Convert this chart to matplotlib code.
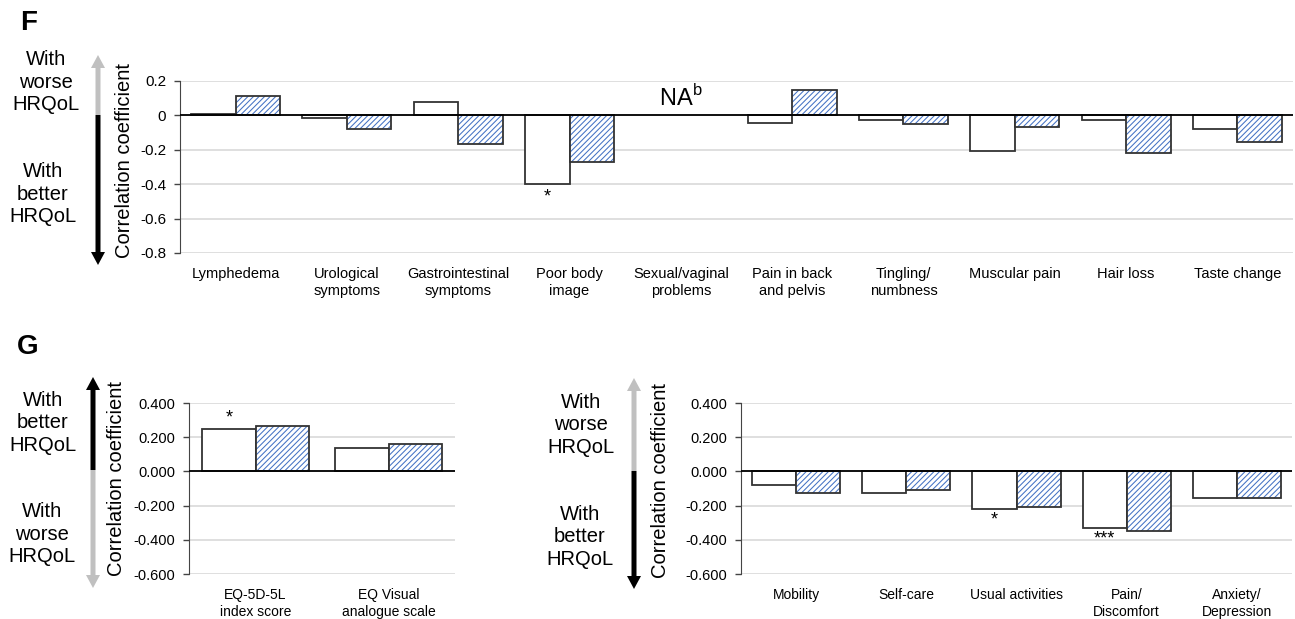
import matplotlib
matplotlib.use('Agg')
import matplotlib.pyplot as plt
import numpy as np

plt.rcParams['font.family'] = ['Liberation Sans', 'DejaVu Sans']
plt.rcParams['hatch.linewidth'] = 0.75

# ---- data ----
cats_f = ['Lymphedema', 'Urological\nsymptoms', 'Gastrointestinal\nsymptoms', 'Poor body\nimage',
          'Sexual/vaginal\nproblems', 'Pain in back\nand pelvis', 'Tingling/\nnumbness',
          'Muscular pain', 'Hair loss', 'Taste change']
open_f = [0.008, -0.017, 0.077, -0.398, np.nan, -0.045, -0.029, -0.207, -0.025, -0.077]
hatch_f = [0.11, -0.077, -0.164, -0.272, np.nan, 0.145, -0.052, -0.07, -0.218, -0.157]
sig_f = ['', '', '', '*', '', '', '', '', '', '']

cats_g1 = ['EQ-5D-5L\nindex score', 'EQ Visual\nanalogue scale']
open_g1 = [0.25, 0.139]
hatch_g1 = [0.266, 0.162]
sig_g1 = ['*', '']

cats_g2 = ['Mobility', 'Self-care', 'Usual activities', 'Pain/\nDiscomfort', 'Anxiety/\nDepression']
open_g2 = [-0.08, -0.124, -0.22, -0.333, -0.157]
hatch_g2 = [-0.124, -0.106, -0.21, -0.35, -0.157]
sig_g2 = ['', '', '*', '***', '']

W, H = 1295, 619
BLUE = '#4472C4'
EDGE = '#333333'
GRID = '#d9d9d9'
GREY = '#c0c0c0'

fig = plt.figure(figsize=(W / 100, H / 100), dpi=100)


def px_axes(x0, x1, ytop, ybot):
    return fig.add_axes([x0 / W, 1 - ybot / H, (x1 - x0) / W, (ybot - ytop) / H])


def bar_panel(ax, cats, vals_open, vals_hatch, sig, ylim, ticks, fmt, fs_tick, fs_cat, sig_off):
    x = np.arange(len(cats))
    w = 0.4
    ax.bar(x - w / 2, vals_open, w, color='white', edgecolor=EDGE, linewidth=1.3, zorder=3)
    ax.bar(x + w / 2, vals_hatch, w, color='white', edgecolor=BLUE, linewidth=0, hatch='//////', zorder=3)
    ax.bar(x + w / 2, vals_hatch, w, fill=False, edgecolor=EDGE, linewidth=1.3, zorder=4)
    ax.axhline(0, color='black', linewidth=1.3, zorder=5)
    ax.set_xlim(-0.5, len(cats) - 0.5)
    ax.set_ylim(*ylim)
    ax.set_yticks(ticks)
    ax.set_yticklabels([fmt.format(t) for t in ticks], fontsize=fs_tick)
    ax.yaxis.grid(True, color=GRID, linewidth=1.2, zorder=0)
    ax.set_axisbelow(True)
    ax.set_xticks(x)
    ax.set_xticklabels(cats, fontsize=fs_cat, linespacing=1.25)
    ax.tick_params(axis='x', length=0, pad=10)
    ax.tick_params(axis='y', length=4, width=1, pad=6, color='#444444')
    for s in ['top', 'right', 'bottom']:
        ax.spines[s].set_visible(False)
    ax.spines['left'].set_color('#444444')
    for i, s in enumerate(sig):
        if not s:
            continue
        v = vals_open[i]
        if v >= 0:
            ax.text(x[i] - w / 2, v + sig_off, s, ha='center', va='bottom', fontsize=13)
        else:
            ax.text(x[i] - w / 2, v - sig_off, s, ha='center', va='top', fontsize=13)


# panel F
axf = px_axes(180, 1293, 81, 253)
bar_panel(axf, cats_f, open_f, hatch_f, sig_f, (-0.8, 0.2), [0.2, 0, -0.2, -0.4, -0.6, -0.8],
          '{:g}', 11, 10.5, 0.025)
axf.text(4, 0.1, 'NA$^\\mathregular{b}$', ha='center', va='center', fontsize=17)

# panel G left
axg1 = px_axes(189, 455, 403, 574)
bar_panel(axg1, cats_g1, open_g1, hatch_g1, sig_g1, (-0.6, 0.4), [0.4, 0.2, 0, -0.2, -0.4, -0.6],
          '{:.3f}', 10.5, 10, 0.01)

# panel G right
axg2 = px_axes(741, 1292, 403, 574)
bar_panel(axg2, cats_g2, open_g2, hatch_g2, sig_g2, (-0.6, 0.4), [0.4, 0.2, 0, -0.2, -0.4, -0.6],
          '{:.3f}', 10.5, 10, 0.015)

# overlay for arrows and side annotations (pixel coords)
ov = fig.add_axes([0, 0, 1, 1], zorder=-1)
ov.set_xlim(0, W)
ov.set_ylim(H, 0)
ov.axis('off')


def arrow(x, y0, y1, color):
    ov.arrow(x, y0, 0, y1 - y0, width=5, head_width=14, head_length=13,
             length_includes_head=True, color=color, linewidth=0)


arrow(98, 115, 55, GREY)
arrow(98, 115, 265, 'black')
arrow(93, 470, 377, 'black')
arrow(93, 470, 588, GREY)
arrow(634, 471, 378, GREY)
arrow(634, 471, 589, 'black')

side = dict(ha='center', va='center', fontsize=14.5, linespacing=1.25)
ov.text(46, 82, 'With\nworse\nHRQoL', **side)
ov.text(43, 194, 'With\nbetter\nHRQoL', **side)
ov.text(43, 423, 'With\nbetter\nHRQoL', **side)
ov.text(42, 534, 'With\nworse\nHRQoL', **side)
ov.text(581, 425, 'With\nworse\nHRQoL', **side)
ov.text(580, 537, 'With\nbetter\nHRQoL', **side)

ylab = dict(ha='center', va='center', rotation=90, fontsize=14.5)
ov.text(124, 160, 'Correlation coefficient', **ylab)
ov.text(117, 478, 'Correlation coefficient', **ylab)
ov.text(660, 481, 'Correlation coefficient', **ylab)

ov.text(20, 23, 'F', fontsize=20, fontweight='bold', ha='left', va='center')
ov.text(17, 347, 'G', fontsize=20, fontweight='bold', ha='left', va='center')

fig.savefig('out.png', dpi=100)
